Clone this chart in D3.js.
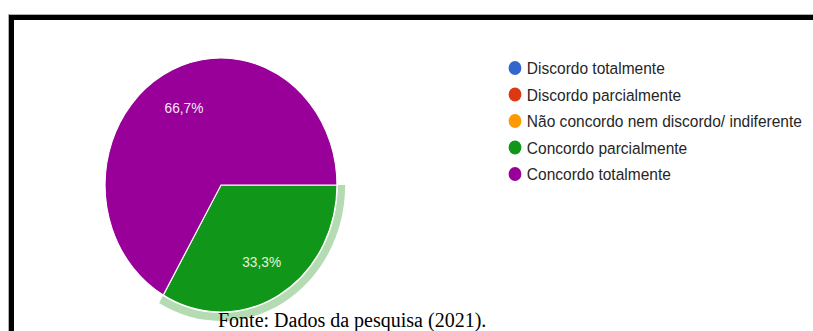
<!DOCTYPE html>
<html>
<head>
<meta charset="utf-8">
<script src="https://cdn.jsdelivr.net/npm/d3@7"></script>
<style>
  html, body { margin: 0; padding: 0; background: #fff; }
  svg { display: block; }
</style>
</head>
<body>
<svg id="chart" width="813" height="331"></svg>
<script>
// Survey answers (Likert scale) and their share of responses
const categories = [
  "Discordo totalmente",
  "Discordo parcialmente",
  "Não concordo nem discordo/ indiferente",
  "Concordo parcialmente",
  "Concordo totalmente"
];
const values = [0, 0, 0, 33.3, 66.7];
const colors = ["#3366cc", "#dc3912", "#ff9900", "#109618", "#990099"];
const sourceNote = "Fonte: Dados da pesquisa (2021).";

const svg = d3.select("#chart");
const W = 813, H = 331;

// Frame: thin gray outline with a thick black border on the top and left
svg.append("rect").attr("x", 8).attr("y", 14).attr("width", W - 8).attr("height", 1).attr("fill", "#b0b0b0");
svg.append("rect").attr("x", 8).attr("y", 14).attr("width", 1).attr("height", H - 14).attr("fill", "#b0b0b0");
svg.append("rect").attr("x", 9).attr("y", 15).attr("width", W - 9).attr("height", 5).attr("fill", "#000");
svg.append("rect").attr("x", 9).attr("y", 15).attr("width", 5).attr("height", H - 15).attr("fill", "#000");

// Chart area is slightly condensed horizontally
const sx = 0.913;
const R = 127;

const data = categories.map((c, i) => ({ name: c, value: values[i], color: colors[i] }));

const pie = d3.pie()
  .value(d => d.value)
  .sort(null)
  .startAngle(Math.PI / 2)
  .endAngle(Math.PI / 2 + 2 * Math.PI);

const arcs = pie(data).filter(a => a.data.value > 0);

const arc = d3.arc().innerRadius(0).outerRadius(R);
const ring = d3.arc().innerRadius(R + 1).outerRadius(R + 9);
const labelArc = d3.arc().innerRadius(R * 0.70).outerRadius(R * 0.70);

const g = svg.append("g").attr("transform", `translate(221,185) scale(${sx},1)`);

// Highlight ring around the selected slice (Concordo parcialmente)
g.selectAll("path.ring")
  .data(arcs.filter(a => a.data.name === "Concordo parcialmente"))
  .join("path")
  .attr("class", "ring")
  .attr("d", ring)
  .attr("fill", "#b5dbb3");

g.selectAll("path.slice")
  .data(arcs)
  .join("path")
  .attr("class", "slice")
  .attr("d", arc)
  .attr("fill", d => d.data.color)
  .attr("stroke", "#fff")
  .attr("stroke-width", 1.2);

const fmt = v => v.toFixed(1).replace(".", ",") + "%";

g.selectAll("text.pct")
  .data(arcs)
  .join("text")
  .attr("class", "pct")
  .attr("transform", d => {
    const [x, y] = labelArc.centroid(d);
    return `translate(${x + (d.data.name === "Concordo totalmente" ? 4 : 0)},${y})`;
  })
  .attr("text-anchor", "middle")
  .attr("dominant-baseline", "central")
  .attr("font-family", "'Liberation Sans', Arial, sans-serif")
  .attr("font-size", 15)
  .attr("fill", d => d.data.name === "Concordo totalmente" ? "#f7e9f7" : "#e4f5dc")
  .text(d => fmt(d.data.value));

// Legend
const legend = svg.append("g").attr("transform", `translate(515,68) scale(${sx},1)`);
const rowH = 26.5;
const items = legend.selectAll("g.item")
  .data(data)
  .join("g")
  .attr("class", "item")
  .attr("transform", (d, i) => `translate(0,${i * rowH})`);

items.append("circle")
  .attr("r", 7)
  .attr("fill", d => d.color);

items.append("text")
  .attr("x", 13)
  .attr("dominant-baseline", "central")
  .attr("font-family", "'Liberation Sans', Arial, sans-serif")
  .attr("font-size", 17)
  .attr("fill", "#262626")
  .text(d => d.name);

// Source note
svg.append("text")
  .attr("x", 218)
  .attr("y", 327)
  .attr("font-family", "'Liberation Serif', 'Times New Roman', serif")
  .attr("font-size", 20)
  .attr("fill", "#000")
  .text(sourceNote);
</script>
</body>
</html>
